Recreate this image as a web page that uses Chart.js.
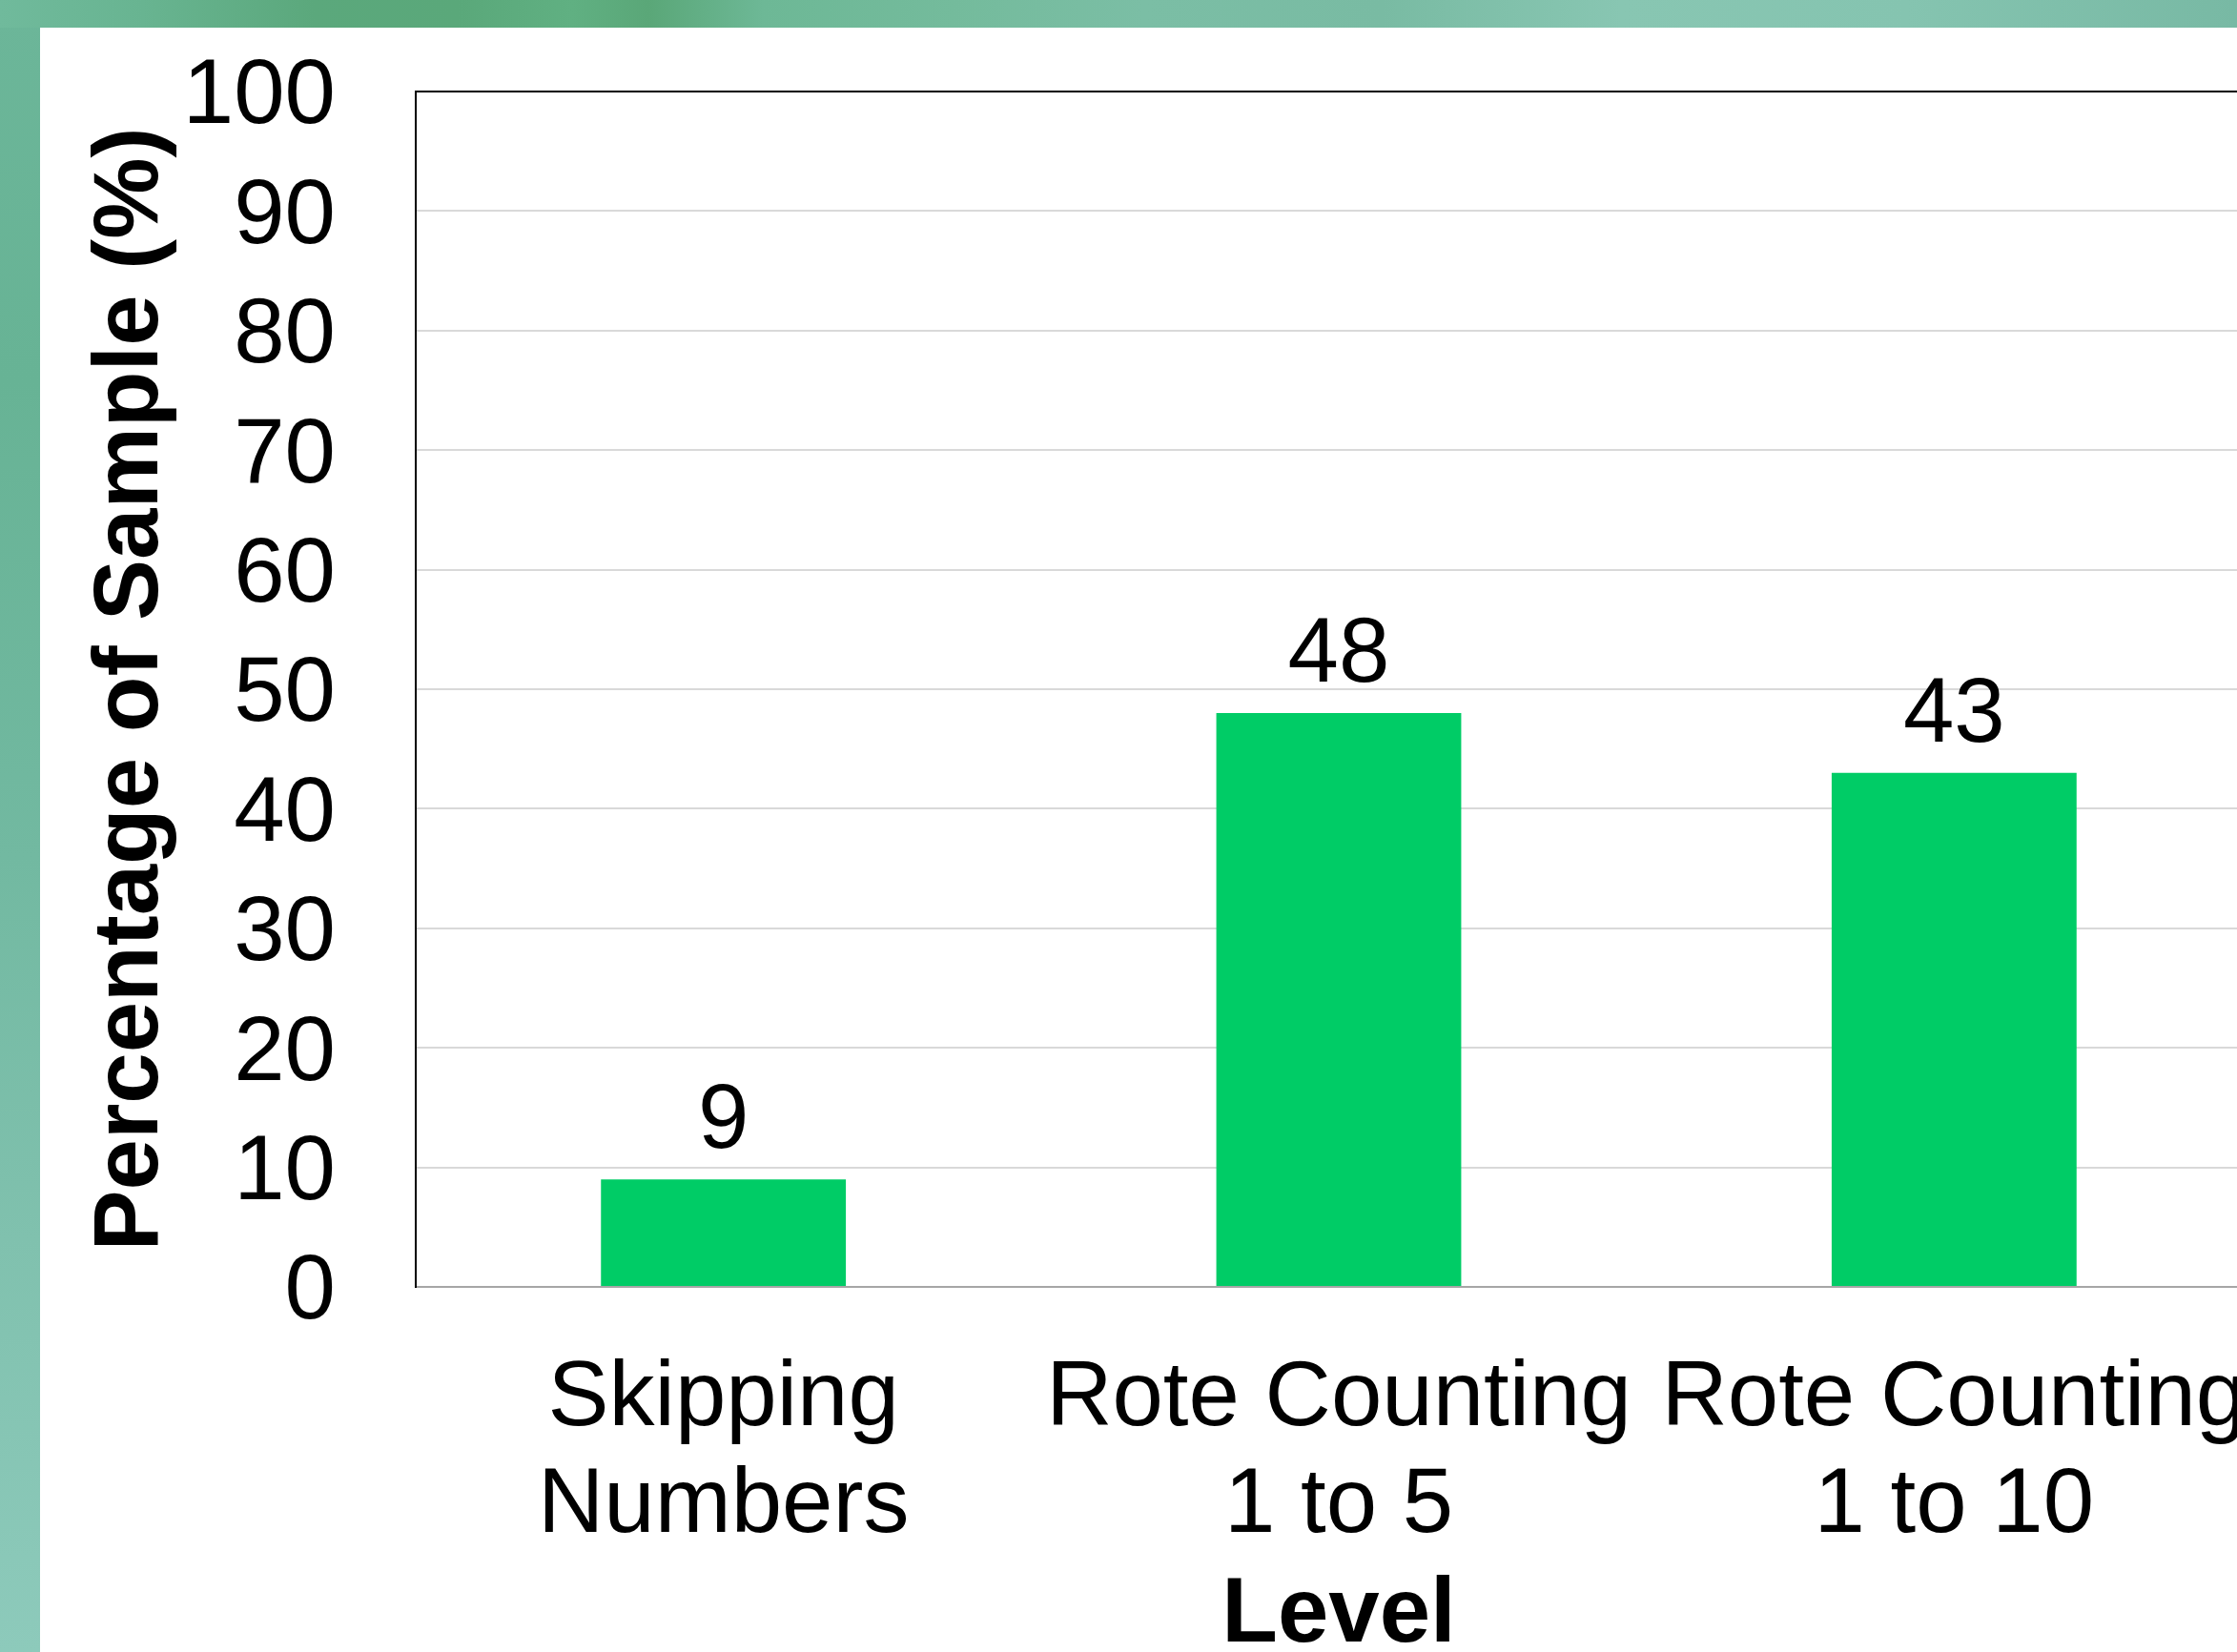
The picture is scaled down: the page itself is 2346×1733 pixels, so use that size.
<!DOCTYPE html>
<html>
<head>
<meta charset="utf-8">
<title>Percentage of Sample by Level</title>
<script src="https://cdn.jsdelivr.net/npm/chart.js@4.4.1/dist/chart.umd.min.js"></script>
<style>
  html, body { margin: 0; padding: 0; width: 2346px; height: 1733px; overflow: hidden; background: #ffffff; }
  #frameLeft {
    position: absolute; left: 0; top: 0; width: 42px; height: 1733px;
    background: linear-gradient(to bottom, #6cb699 0px, #67b395 400px, #72b9a1 900px, #80c1ae 1300px, #8dcabb 1733px);
  }
  #frameTop {
    position: absolute; left: 0; top: 0; width: 2346px; height: 29px;
    background: linear-gradient(to right, #70ba9c 0px, #68b491 150px, #5ba87c 330px, #5aa87a 480px,
      #60b082 600px, #5aa778 680px, #6db896 800px, #74bb9c 1000px, #7bbea5 1200px,
      #79bba3 1450px, #88c6b2 1700px, #85c4b0 2000px, #78b9a4 2346px);
  }
  #wrap { position: absolute; left: 42px; top: 29px; width: 2304px; height: 1704px; overflow: hidden; background: #ffffff; }
  canvas { display: block; }
</style>
</head>
<body>
<div id="frameLeft"></div>
<div id="frameTop"></div>
<div id="wrap"><canvas id="chart" width="2400" height="1704"></canvas></div>
<script>
// Categories (two-line labels), bar values and y tick values
const levels = [
  ['Skipping', 'Numbers'],
  ['Rote Counting', '1 to 5'],
  ['Rote Counting', '1 to 10']
];
const percentages = [9, 48, 43];
const yTicks = [0, 10, 20, 30, 40, 50, 60, 70, 80, 90, 100];

const FONT = '"Liberation Sans", Arial, Helvetica, sans-serif';

// Writes each bar's value just above it
const valueLabels = {
  id: 'valueLabels',
  afterDatasetsDraw(chart) {
    const ctx = chart.ctx;
    const meta = chart.getDatasetMeta(0);
    ctx.save();
    ctx.font = '96px ' + FONT;
    ctx.fillStyle = '#000000';
    ctx.textAlign = 'center';
    ctx.textBaseline = 'alphabetic';
    meta.data.forEach((bar, i) => {
      ctx.fillText(String(percentages[i]), bar.x, bar.y - 33);
    });
    ctx.restore();
  }
};

new Chart(document.getElementById('chart'), {
  type: 'bar',
  data: {
    labels: levels,
    datasets: [{
      data: percentages,
      backgroundColor: '#00cc66',
      borderWidth: 0,
      categoryPercentage: 1,
      barPercentage: 0.398
    }]
  },
  options: {
    responsive: false,
    devicePixelRatio: 1,
    animation: false,
    events: [],
    layout: { padding: { top: 67, right: 70, bottom: 0, left: 0 } },
    plugins: {
      legend: { display: false },
      tooltip: { enabled: false },
      title: { display: false }
    },
    scales: {
      x: {
        grid: { display: false, drawTicks: false, tickLength: 0 },
        border: { display: true, color: '#a6a6a6', width: 2 },
        ticks: {
          color: '#000000',
          font: { family: FONT, size: 96, lineHeight: 1.16 },
          padding: 63,
          autoSkip: false,
          maxRotation: 0,
          minRotation: 0
        },
        title: {
          display: true,
          text: 'Level',
          color: '#000000',
          font: { family: FONT, size: 96, weight: 'bold', lineHeight: 0.76 },
          padding: { top: 0, bottom: 1 }
        },
        afterFit(scale) { scale.height = 383; }
      },
      y: {
        min: 0,
        max: 100,
        afterBuildTicks(scale) { scale.ticks = yTicks.map(v => ({ value: v })); },
        grid: {
          drawTicks: false,
          tickLength: 0,
          lineWidth: 2,
          color: ctx => (ctx.tick && ctx.tick.value === 100) ? '#000000' : '#d9d9d9'
        },
        border: { display: true, color: '#000000', width: 2 },
        ticks: {
          color: '#000000',
          font: { family: FONT, size: 96 },
          padding: 84,
          labelOffset: 7,
          autoSkip: false
        },
        title: {
          display: true,
          text: 'Percentage of Sample (%)',
          color: '#000000',
          font: { family: FONT, size: 96, weight: 'bold' },
          padding: { top: 39, bottom: 0 }
        },
        afterFit(scale) {
          scale.width = 394;
          // the top label may overhang the plot; the layout padding already leaves room
          scale.paddingTop = 0;
          scale.paddingBottom = 0;
        }
      }
    }
  },
  plugins: [valueLabels]
});
</script>
</body>
</html>
